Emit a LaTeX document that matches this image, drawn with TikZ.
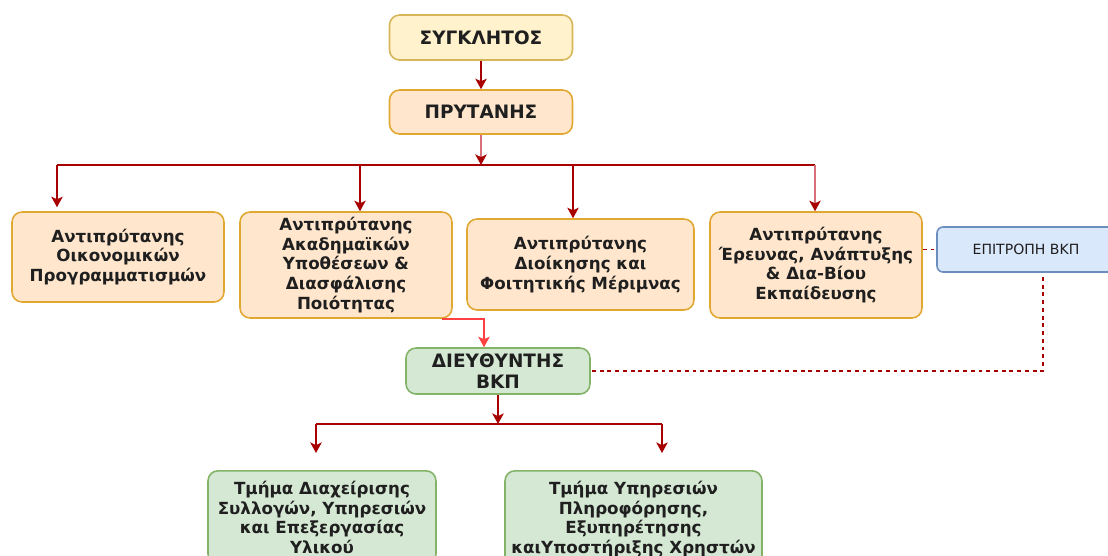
\documentclass[tikz,border=0pt]{standalone}
\usepackage{fontspec}
\setmainfont{DejaVu Sans}
\usepackage{tikz}
\usetikzlibrary{calc,arrows.meta}
\definecolor{senfill}{HTML}{FFF2CC}
\definecolor{senline}{HTML}{D6B656}
\definecolor{orfill}{HTML}{FFE6CC}
\definecolor{orline}{HTML}{E0A830}
\definecolor{blfill}{HTML}{DAE8FC}
\definecolor{blline}{HTML}{6C8EBF}
\definecolor{grfill}{HTML}{D5E8D4}
\definecolor{grline}{HTML}{82B366}
\definecolor{wine}{HTML}{A80000}
\definecolor{pinkline}{HTML}{D8707C}
\definecolor{bright}{HTML}{FF4040}
\tikzset{
  box/.style={rounded corners=0.2cm, line width=0.9pt, align=center, inner sep=0pt,
    font=\fontsize{9.5}{11.3}\selectfont\bfseries, text=black!88},
  head/.style={font=\fontsize{10.5}{12}\selectfont\bfseries},
  senbox/.style={box, fill=senfill, draw=senline},
  orbox/.style={box, fill=orfill, draw=orline},
  blbox/.style={box, fill=blfill, draw=blline, rounded corners=0.12cm,
    font=\fontsize{8}{9.5}\selectfont},
  grbox/.style={box, fill=grfill, draw=grline},
  wire/.style={draw=wine, line width=0.9pt},
  link/.style={wire, -{Stealth[length=6pt,width=6.5pt,inset=1.5pt]}},
  softlink/.style={draw=pinkline, line width=1pt,
    -{Stealth[length=6pt,width=6.5pt,inset=1.5pt,color=wine]}},
  brightlink/.style={draw=bright, line width=0.9pt,
    -{Stealth[length=6pt,width=6.5pt,inset=1.5pt]}},
  dashlink/.style={draw=wine, line width=0.9pt, dash pattern=on 2.2pt off 2.2pt}
}

\begin{document}
\begin{tikzpicture}[x=0.02cm, y=-0.02cm]
  \useasboundingbox (0,0) rectangle (1108,555);
  \clip (0,0) rectangle (1108,555);

  \node[senbox, head, minimum width=3.66cm, minimum height=0.9cm] (senate) at (481,37.5) {ΣΥΓΚΛΗΤΟΣ};
  \node[orbox, head, minimum width=3.66cm, minimum height=0.88cm] (rector) at (481,112) {ΠΡΥΤΑΝΗΣ};

  \node[orbox, minimum width=4.24cm, minimum height=1.8cm] (vr1) at (118,257)
    {Αντιπρύτανης\\Οικονομικών\\Προγραμματισμών};
  \node[orbox, minimum width=4.24cm, minimum height=2.12cm] (vr2) at (346,265)
    {Αντιπρύτανης\\Ακαδημαϊκών\\Υποθέσεων \&\\Διασφάλισης\\Ποιότητας};
  \node[orbox, minimum width=4.54cm, minimum height=1.82cm] (vr3) at (580.5,264.5)
    {Αντιπρύτανης\\Διοίκησης και\\Φοιτητικής Μέριμνας};
  \node[orbox, minimum width=4.24cm, minimum height=2.12cm] (vr4) at (816,265)
    {Αντιπρύτανης\\Έρευνας, Ανάπτυξης\\\& Δια-Βίου\\Εκπαίδευσης};
  \node[blbox, minimum width=3.56cm, minimum height=0.9cm] (epit) at (1026,249.5) {ΕΠΙΤΡΟΠΗ ΒΚΠ};

  \node[grbox, head, minimum width=3.68cm, minimum height=0.92cm] (dir) at (498,371) {ΔΙΕΥΘΥΝΤΗΣ\\ΒΚΠ};

  \node[grbox, anchor=north, minimum width=4.56cm, inner ysep=0.2cm] (dept1) at (322,470)
    {Τμήμα Διαχείρισης\\Συλλογών, Υπηρεσιών\\και Επεξεργασίας\\Υλικού};
  \node[grbox, anchor=north, minimum width=5.14cm, inner ysep=0.2cm] (dept2) at (633.5,470)
    {Τμήμα Υπηρεσιών\\Πληροφόρησης,\\Εξυπηρέτησης\\καιΥποστήριξης Χρηστών};

  % bus under the rector
  \coordinate (bus) at (481,165);
  \coordinate (b1) at (57,165);
  \coordinate (b2) at (360,165);
  \coordinate (b3) at (573,165);
  \coordinate (b4) at (815,165);
  \draw[link] (senate) -- (rector);
  \draw[wire] (b1) -- (b4);
  \draw[softlink] (rector) -- (bus);
  \draw[link] (b1) -- ($(b1 |- vr1.north)+(0,-4)$);
  \draw[link] (b2) -- (b2 |- vr2.north);
  \draw[link] (b3) -- (b3 |- vr3.north);
  \draw[softlink] (b4) -- (b4 |- vr4.north);

  \draw[brightlink] ($(vr2.south east)+(-11,0)$) -| ($(dir.north)+(-14,0)$);

  % bus under the director
  \coordinate (c0) at (498,424);
  \coordinate (c1) at (316,424);
  \coordinate (c2) at (662,424);
  \draw[link] (dir) -- (c0);
  \draw[wire] (c1) -- (c2);
  \draw[link] (c1) -- ($(c1 |- dept1.north)+(0,-17)$);
  \draw[link] (c2) -- ($(c2 |- dept2.north)+(0,-17)$);

  \draw[dashlink] (vr4.east |- epit.west) -- (epit.west);
  \coordinate (e1) at (1043,277);
  \draw[dashlink] (e1) |- (dir.east);
\end{tikzpicture}
\end{document}
